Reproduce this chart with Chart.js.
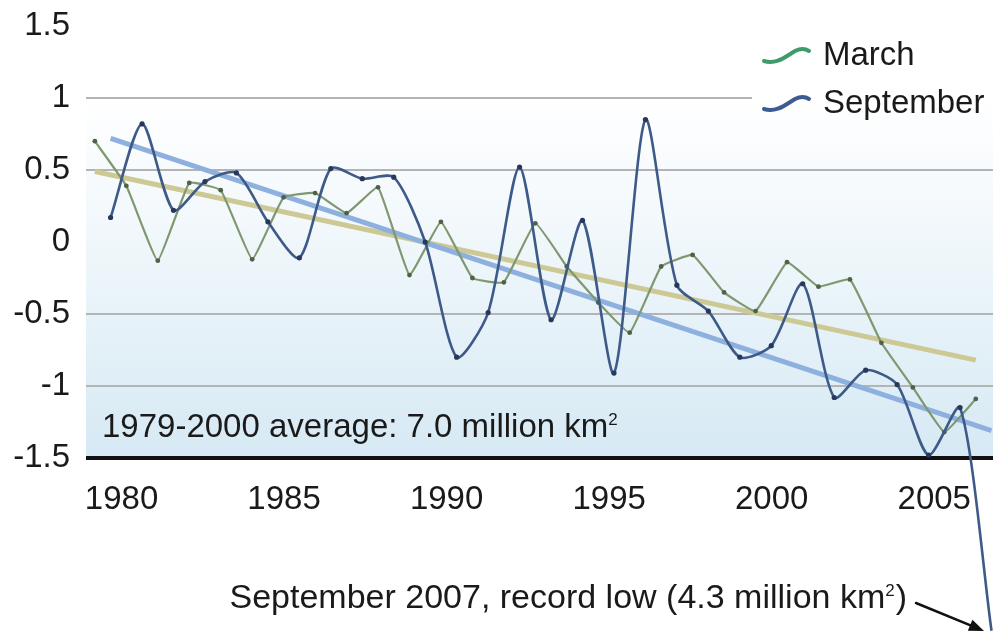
<!DOCTYPE html>
<html>
<head>
<meta charset="utf-8">
<script src="https://cdn.jsdelivr.net/npm/chart.js@4.4.0/dist/chart.umd.min.js"></script>
<style>
    html, body { margin: 0; padding: 0; background: #fff; }
    #wrap { width: 997px; height: 642px; position: relative; }
</style>
</head>
<body>
<div id="wrap"><canvas id="iceCanvas"></canvas></div>
<script>
// sea ice extent anomaly (million km2)
var years = [1979, 1980, 1981, 1982, 1983, 1984, 1985, 1986, 1987, 1988,
             1989, 1990, 1991, 1992, 1993, 1994, 1995, 1996, 1997, 1998,
             1999, 2000, 2001, 2002, 2003, 2004, 2005, 2006, 2007];
var marchValues = [0.70, 0.39, -0.13, 0.41, 0.36, -0.12, 0.31, 0.34, 0.20, 0.38,
                   -0.23, 0.14, -0.25, -0.28, 0.13, -0.17, -0.42, -0.63, -0.17, -0.09,
                   -0.35, -0.48, -0.14, -0.31, -0.26, -0.70, -1.01, -1.32, -1.09];
var septemberValues = [0.17, 0.82, 0.22, 0.42, 0.48, 0.14, -0.11, 0.51, 0.44, 0.45,
                       0.00, -0.80, -0.49, 0.52, -0.54, 0.15, -0.91, 0.85, -0.30, -0.48,
                       -0.80, -0.72, -0.29, -1.08, -0.89, -0.99, -1.48, -1.15, -2.70];
var trendYears = [1979, 2007];
var marchTrend = [0.49, -0.82];
var septemberTrend = [0.72, -1.31];
var yTickValues = [-1.5, -1, -0.5, 0, 0.5, 1, 1.5];
var xTickYears = [1980, 1985, 1990, 1995, 2000, 2005];
var seriesNames = ['March', 'September'];

// month position inside the year
var MARCH_OFFSET = 2 / 12, SEPT_OFFSET = 8 / 12;
var FONT = '"Liberation Sans", Arial, Helvetica, sans-serif';

function toPoints(xs, ys, offset) {
    return xs.map(function (yr, i) { return {x: yr + offset, y: ys[i]}; });
}

function drawRich(ctx, parts, x, y, align, size) {
    var big = size + 'px ' + FONT, small = '17px ' + FONT, w = 0;
    parts.forEach(function (p) {
        ctx.font = p.sup ? small : big;
        w += ctx.measureText(p.t).width;
    });
    var cx = align === 'right' ? x - w : x;
    parts.forEach(function (p) {
        ctx.font = p.sup ? small : big;
        ctx.fillText(p.t, cx, p.sup ? y - 12 : y);
        cx += ctx.measureText(p.t).width + (p.sup ? 1 : 0);
    });
}

var backdrop = {
    id: 'backdrop',
    beforeDraw: function (chart) {
        var ctx = chart.ctx, a = chart.chartArea;
        var top = chart.scales.y.getPixelForValue(1);
        ctx.save();
        ctx.fillStyle = '#fff';
        ctx.fillRect(0, 0, chart.width, chart.height);
        var g = ctx.createLinearGradient(0, top, 0, a.bottom);
        g.addColorStop(0, '#ffffff');
        g.addColorStop(0.4, '#f0f7fb');
        g.addColorStop(1, '#d6e9f4');
        ctx.fillStyle = g;
        ctx.fillRect(a.left, top, a.right - a.left, a.bottom - top);
        ctx.restore();
    }
};

var notes = {
    id: 'notes',
    afterDraw: function (chart) {
        var ctx = chart.ctx, a = chart.chartArea;
        ctx.save();
        ctx.textAlign = 'left';
        ctx.textBaseline = 'alphabetic';

        // legend
        var colors = ['#3f9a6c', '#3b5b92'];
        var rows = [55, 103];
        ctx.fillStyle = '#fff';
        ctx.fillRect(752, chart.scales.y.getPixelForValue(1) - 3, a.right - 752, 6);
        seriesNames.forEach(function (name, i) {
            var cy = rows[i];
            ctx.strokeStyle = colors[i];
            ctx.lineWidth = 4;
            ctx.lineCap = 'round';
            ctx.beginPath();
            ctx.moveTo(764, cy + 6);
            ctx.bezierCurveTo(776, cy + 10, 785, cy + 2, 795, cy - 4);
            ctx.quadraticCurveTo(803, cy - 8, 809, cy - 4);
            ctx.stroke();
            ctx.fillStyle = '#1a1a1a';
            ctx.font = '33px ' + FONT;
            ctx.fillText(name, 823, cy + 10);
        });

        // baseline note
        ctx.fillStyle = '#1a1a1a';
        drawRich(ctx, [{t: '1979-2000 average: 7.0 million km'}, {t: '2', sup: true}],
            a.left + 16, 437, 'left', 33);

        // record low note + arrow
        drawRich(ctx, [{t: 'September 2007, record low (4.3 million km'}, {t: '2', sup: true}, {t: ')'}],
            906, 608, 'right', 34);
        var x1 = 916, y1 = 603, x2 = 984, y2 = 631;
        var ang = Math.atan2(y2 - y1, x2 - x1);
        ctx.strokeStyle = '#111';
        ctx.fillStyle = '#111';
        ctx.lineWidth = 2.5;
        ctx.beginPath();
        ctx.moveTo(x1, y1);
        ctx.lineTo(x2 - 10 * Math.cos(ang), y2 - 10 * Math.sin(ang));
        ctx.stroke();
        ctx.beginPath();
        ctx.moveTo(x2, y2);
        ctx.lineTo(x2 - 15 * Math.cos(ang) + 6 * Math.sin(ang), y2 - 15 * Math.sin(ang) - 6 * Math.cos(ang));
        ctx.lineTo(x2 - 15 * Math.cos(ang) - 6 * Math.sin(ang), y2 - 15 * Math.sin(ang) + 6 * Math.cos(ang));
        ctx.closePath();
        ctx.fill();
        ctx.restore();
    }
};

var canvas = document.getElementById('iceCanvas'),
    ctx = canvas.getContext('2d');

var chart = new Chart(ctx, {
    type: 'line',
    data: {
        datasets: [
            {label: seriesNames[1], data: toPoints(years, septemberValues, SEPT_OFFSET), xAxisID: 'x', yAxisID: 'y',
             borderColor: '#3d5a88', borderWidth: 2.6, tension: 0.25, pointRadius: 2.6,
             pointBackgroundColor: '#27385a', pointBorderWidth: 0, clip: false},
            {label: seriesNames[0], data: toPoints(years, marchValues, MARCH_OFFSET), xAxisID: 'x', yAxisID: 'y',
             borderColor: '#7f9870', borderWidth: 2.2, tension: 0.1, pointRadius: 2.4,
             pointBackgroundColor: '#4f6146', pointBorderWidth: 0, clip: false},
            {label: 'September trend', data: toPoints(trendYears, septemberTrend, SEPT_OFFSET), xAxisID: 'x', yAxisID: 'y',
             borderColor: '#8eb0de', borderWidth: 5, pointRadius: 0, tension: 0, clip: false},
            {label: 'March trend', data: toPoints(trendYears, marchTrend, MARCH_OFFSET), xAxisID: 'x', yAxisID: 'y',
             borderColor: '#cdc994', borderWidth: 5, pointRadius: 0, tension: 0, clip: false}
        ]
    },
    options: {
        responsive: true,
        maintainAspectRatio: false,
        animation: false,
        layout: {padding: {top: 26, left: 0, right: 0, bottom: 0}},
        plugins: {legend: {display: false}, tooltip: {enabled: false}},
        scales: {
            x: {type: 'linear', display: false, min: 1978.885, max: 2007.714},
            xt: {
                type: 'linear', position: 'bottom', min: 1978.907, max: 2006.807,
                afterBuildTicks: function (s) { s.ticks = xTickYears.map(function (v) { return {value: v}; }); },
                afterFit: function (s) { s.height = 184; s.paddingLeft = 0; s.paddingRight = 0; },
                grid: {display: false},
                border: {display: false},
                ticks: {font: {size: 33, family: FONT}, color: '#1a1a1a', padding: 14,
                        maxRotation: 0, autoSkip: false, callback: function (v) { return String(v); }}
            },
            y: {
                min: -1.5, max: 1.5,
                afterBuildTicks: function (s) { s.ticks = yTickValues.map(function (v) { return {value: v}; }); },
                afterFit: function (s) { s.width = 86; s.paddingTop = 0; s.paddingBottom = 0; },
                grid: {
                    drawTicks: false,
                    color: function (c) {
                        var v = c.tick.value;
                        if (v === -1.5) return '#111';
                        if (v === 0 || v === 1.5) return 'rgba(0,0,0,0)';
                        return '#b4b4b4';
                    },
                    lineWidth: function (c) { return c.tick.value === -1.5 ? 4 : 2; }
                },
                border: {display: false},
                ticks: {font: {size: 33, family: FONT}, color: '#1a1a1a', padding: 16,
                        callback: function (v) { return String(v); }}
            }
        }
    },
    plugins: [backdrop, notes]
});
</script>
</body>
</html>
